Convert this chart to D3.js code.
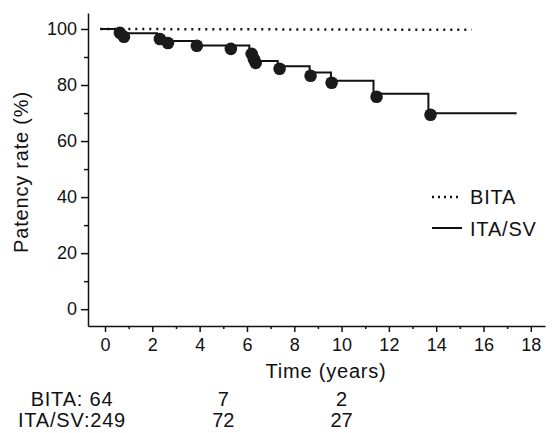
<!DOCTYPE html>
<html>
<head>
<meta charset="utf-8">
<script src="https://cdn.jsdelivr.net/npm/d3@7"></script>
<style>
  body { margin: 0; background: #fff; }
  text { font-family: "Liberation Sans", Arial, sans-serif; fill: #111; }
</style>
</head>
<body>
<svg id="chart" width="552" height="433"></svg>
<script>
// step curve of ITA/SV (time where each level starts, level in %)
const itaStepTimes = [-0.2, 0.63, 2.2, 3.8, 6.1, 7.3, 8.65, 9.55, 11.35, 13.67];
const itaStepLevels = [100, 98.5, 95.7, 94.1, 88.6, 86.7, 84.5, 81.5, 76.9, 69.9];
const itaEndTime = 17.4;

// filled circles on the ITA/SV curve
const markTimes = [0.63, 0.8, 2.32, 2.66, 3.88, 5.32, 6.2, 6.29, 6.37, 7.38, 8.69, 9.58, 11.48, 13.76];
const markValues = [98.6, 97.2, 96.4, 95.0, 94.0, 92.9, 91.1, 89.3, 87.9, 85.8, 83.3, 80.8, 75.8, 69.4];

// BITA curve
const bitaTimes = [-0.2, 15.5];
const bitaValues = [100, 99.7];

const yTicks = [0, 20, 40, 60, 80, 100];
const yMinor = [10, 30, 50, 70, 90];
const xTicks = [0, 2, 4, 6, 8, 10, 12, 14, 16, 18];
const xMinor = [1, 3, 5, 7, 9, 11, 13, 15, 17];

const atRisk = [
  { label: "BITA: 64", counts: ["7", "2"] },
  { label: "ITA/SV:249", counts: ["72", "27"] }
];
const atRiskTimes = [5, 10];

const svg = d3.select("#chart");

const x = d3.scaleLinear().domain([-0.72, 18.6]).range([88, 545]);
const y = d3.scaleLinear().domain([-6, 105.7]).range([326, 13]);

// axes
svg.append("g")
    .attr("transform", "translate(88,0)")
    .call(d3.axisLeft(y).tickValues(yTicks).tickSize(7).tickSizeOuter(0).tickPadding(4));
svg.append("g")
    .attr("transform", "translate(88,0)")
    .call(d3.axisLeft(y).tickValues(yMinor).tickSize(4).tickFormat("").tickSizeOuter(0))
    .select(".domain").remove();

svg.append("g")
    .attr("transform", "translate(0,326)")
    .call(d3.axisBottom(x).tickValues(xTicks).tickSize(6).tickSizeOuter(0).tickPadding(6));
svg.append("g")
    .attr("transform", "translate(0,326)")
    .call(d3.axisBottom(x).tickValues(xMinor).tickSize(3).tickFormat("").tickSizeOuter(0))
    .select(".domain").remove();

svg.selectAll(".domain, .tick line").attr("stroke", "#111").attr("stroke-width", 1.5);
svg.selectAll(".tick text").attr("font-size", 18).attr("fill", "#111")
    .style("font-family", "'Liberation Sans', Arial, sans-serif");

// axis titles
svg.append("text")
    .attr("transform", "translate(28,172) rotate(-90)")
    .attr("text-anchor", "middle")
    .attr("font-size", 20)
    .attr("letter-spacing", 0.8)
    .text("Patency rate (%)");

svg.append("text")
    .attr("x", 326).attr("y", 378)
    .attr("text-anchor", "middle")
    .attr("font-size", 20)
    .attr("letter-spacing", 0.8)
    .text("Time (years)");

// BITA dotted line
const bitaLine = d3.line()
    .x((d, i) => x(bitaTimes[i]))
    .y(d => y(d));
svg.append("path")
    .attr("d", bitaLine(bitaValues))
    .attr("fill", "none")
    .attr("stroke", "#111")
    .attr("stroke-width", 2.5)
    .attr("stroke-dasharray", "2,5");

// ITA/SV step line
const stepPts = itaStepTimes.map((t, i) => [t, itaStepLevels[i]]);
stepPts.push([itaEndTime, itaStepLevels[itaStepLevels.length - 1]]);
const stepLine = d3.line()
    .x(d => x(d[0]))
    .y(d => y(d[1]))
    .curve(d3.curveStepAfter);
svg.append("path")
    .attr("d", stepLine(stepPts))
    .attr("fill", "none")
    .attr("stroke", "#111")
    .attr("stroke-width", 2);

svg.selectAll("circle.mark")
    .data(markTimes)
    .enter()
    .append("circle")
    .attr("class", "mark")
    .attr("cx", d => x(d))
    .attr("cy", (d, i) => y(markValues[i]))
    .attr("r", 6.3)
    .attr("fill", "#1a1a1a");

// legend
const legend = svg.append("g");
legend.append("line")
    .attr("x1", 432).attr("x2", 458).attr("y1", 197).attr("y2", 197)
    .attr("stroke", "#111").attr("stroke-width", 2.5).attr("stroke-dasharray", "2,4");
legend.append("text").attr("x", 470).attr("y", 204)
    .attr("font-size", 20).attr("letter-spacing", 0.8).text("BITA");
legend.append("line")
    .attr("x1", 432).attr("x2", 462).attr("y1", 228).attr("y2", 228)
    .attr("stroke", "#111").attr("stroke-width", 2);
legend.append("text").attr("x", 470).attr("y", 236)
    .attr("font-size", 20).attr("letter-spacing", 0.8).text("ITA/SV");

// numbers at risk
atRisk.forEach((row, r) => {
    const by = 406 + r * 21;
    svg.append("text")
        .attr("x", 72).attr("y", by)
        .attr("text-anchor", "middle")
        .attr("font-size", 20)
        .attr("letter-spacing", 0.8)
        .text(row.label);
    row.counts.forEach((c, j) => {
        svg.append("text")
            .attr("x", x(atRiskTimes[j])).attr("y", by)
            .attr("text-anchor", "middle")
            .attr("font-size", 20)
            .text(c);
    });
});
</script>
</body>
</html>
